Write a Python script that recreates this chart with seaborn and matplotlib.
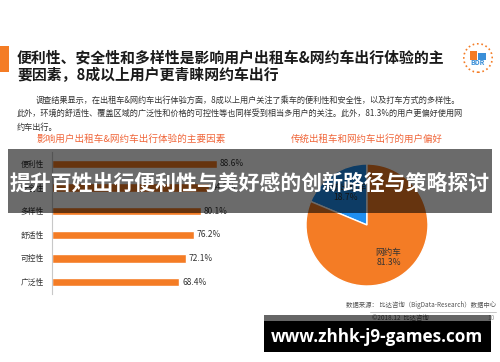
import matplotlib
matplotlib.use('Agg')
import matplotlib.pyplot as plt
import matplotlib.patches as mpatches
import seaborn as sns

# --- data ---
factors = ['便利性', '安全性', '多样性', '舒适性', '可控性', '广泛性']
factor_pct = [88.6, 84.5, 80.1, 76.2, 72.1, 68.4]
modes = ['传统出租车', '网约车']
mode_pct = [18.7, 81.3]

title_lines = ['便利性、安全性和多样性是影响用户出租车&网约车出行体验的主',
               '要因素，8成以上用户更青睐网约车出行']
body_lines = ['调查结果显示，在出租车&网约车出行体验方面，8成以上用户关注了乘车的便利性和安全性，以及打车方式的多样性。',
              '此外，环境的舒适性、覆盖区域的广泛性和价格的可控性等也同样受到相当多用户的关注。此外，81.3%的用户更偏好使用网',
              '约车出行。']
bar_title = '影响用户出租车&网约车出行体验的主要因素'
pie_title = '传统出租车和网约车出行的用户偏好'
banner_text = '提升百姓出行便利性与美好感的创新路径与策略探讨'
source_text = '数据来源： 比达咨询（BigData-Research）数据中心'
url_text = 'www.zhhk-j9-games.com'

ORANGE = '#f47c25'
BLUE = '#1f8ff0'
RED_TITLE = '#f0663a'

sns.set_style('white')
plt.rcParams['font.family'] = ['Noto Sans CJK SC', 'DejaVu Sans']

W, H = 500, 362
fig = plt.figure(figsize=(W / 100, H / 100), dpi=100)
fig.patch.set_facecolor('white')


def fx(x):
    return x / W


def fy(y):
    return 1 - y / H


def box(x0, y0, x1, y1):
    return [fx(x0), fy(y1), (x1 - x0) / W, (y1 - y0) / H]


# --- header ---
fig.add_artist(mpatches.Rectangle((fx(0), fy(72)), fx(9), 26 / H,
                                  color=ORANGE, transform=fig.transFigure, lw=0))
fig.text(fx(17), fy(57), title_lines[0], fontsize=10.7, fontweight='bold',
         color='#1a1a1a', va='center', ha='left')
fig.text(fx(17), fy(75), title_lines[1], fontsize=10.7, fontweight='bold',
         color='#1a1a1a', va='center', ha='left')

fig.text(fx(36), fy(100), body_lines[0], fontsize=5.9, color='#333333', va='center')
fig.text(fx(17), fy(113), body_lines[1], fontsize=5.9, color='#333333', va='center')
fig.text(fx(17), fy(127), body_lines[2], fontsize=5.9, color='#333333', va='center')

# small logo
ax_logo = fig.add_axes(box(463, 43, 493, 73))
ax_logo.set_xlim(-1, 1)
ax_logo.set_ylim(-1, 1)
ax_logo.set_aspect('equal')
ax_logo.axis('off')
ax_logo.add_patch(mpatches.Circle((0, 0), 0.95, fill=False, ec=ORANGE, lw=1.2, ls=':'))
ax_logo.add_patch(mpatches.Rectangle((-0.55, -0.1), 0.5, 0.6, color=ORANGE, lw=0))
ax_logo.add_patch(mpatches.Rectangle((0.0, -0.1), 0.55, 0.45, color='#3a8fd8', lw=0))
ax_logo.text(0, -0.3, 'BDR', fontsize=5, color='#3a8fd8', ha='center', va='center',
             fontweight='bold')

# --- bar chart ---
fig.text(fx(131), fy(139), bar_title, fontsize=6.9, color=RED_TITLE, ha='center', va='center')
ax_bar = fig.add_axes(box(52, 152, 238, 294))
sns.barplot(x=factor_pct, y=factors, orient='h', color=ORANGE, saturation=1,
            width=0.34, ax=ax_bar)
ax_bar.set_xlim(0, 100)
ax_bar.set_ylim(5.5, -0.5)
for side in ['top', 'right', 'bottom']:
    ax_bar.spines[side].set_visible(False)
ax_bar.spines['left'].set_color('#c8c8c8')
ax_bar.spines['left'].set_linewidth(0.8)
ax_bar.set_xticks([])
ax_bar.set_xlabel('')
ax_bar.set_ylabel('')
ax_bar.tick_params(axis='y', length=0, pad=6, labelsize=5.6, labelcolor='#333333')
ax_bar.bar_label(ax_bar.containers[0], labels=[f'{v}%' for v in factor_pct],
                 padding=2, fontsize=6, color='#333333')
ax_bar.patch.set_alpha(0)

# --- pie chart ---
fig.text(fx(367), fy(139), pie_title, fontsize=6.8, color=RED_TITLE, ha='center', va='center')
ax_pie = fig.add_axes(box(306, 164, 428, 286))
wedges, texts, autotexts = ax_pie.pie(mode_pct, colors=[BLUE, ORANGE], startangle=90,
                                      counterclock=True, autopct='%1.1f%%',
                                      pctdistance=0.64,
                                      textprops={'fontsize': 6.2, 'color': '#333333'})
for t, name in zip(autotexts, modes):
    t.set_text(f'{name}\n{t.get_text()}')
ax_pie.set_xlim(-1, 1)
ax_pie.set_ylim(-1, 1)

# --- footer ---
fig.text(fx(496), fy(305), source_text, fontsize=4.6, color='#555555', ha='right', va='center')
fig.add_artist(plt.Line2D([fx(370), fx(496)], [fy(312), fy(312)], color='#bbbbbb',
                          lw=0.6, transform=fig.transFigure))
fig.text(fx(372), fy(318), '©2018.12  比达咨询', fontsize=4.6, color='#555555', va='center')
fig.text(fx(495), fy(318), '10', fontsize=4.6, color='#999999', ha='right', va='center')

# --- overlays ---
fig.add_artist(mpatches.Rectangle((fx(8), fy(213)), (492 - 8) / W, (213 - 149) / H,
                                  color='black', alpha=0.58, lw=0,
                                  transform=fig.transFigure, zorder=5))
fig.text(fx(250), fy(183), banner_text, fontsize=15, fontweight='bold', color='white',
         ha='center', va='center', zorder=6)

fig.add_artist(mpatches.Rectangle((fx(264), fy(321)), (491 - 264) / W, 6 / H,
                                  color='black', alpha=0.6, lw=0,
                                  transform=fig.transFigure, zorder=5))
fig.add_artist(mpatches.Rectangle((fx(264), fy(352)), (491 - 264) / W, 31 / H,
                                  color='black', lw=0,
                                  transform=fig.transFigure, zorder=5))
fig.text(fx(377), fy(337), url_text, fontsize=12.3, fontweight='bold', color='white',
         family=['Open Sans', 'DejaVu Sans'], ha='center', va='center', zorder=6)

fig.savefig('out.png', dpi=100)
